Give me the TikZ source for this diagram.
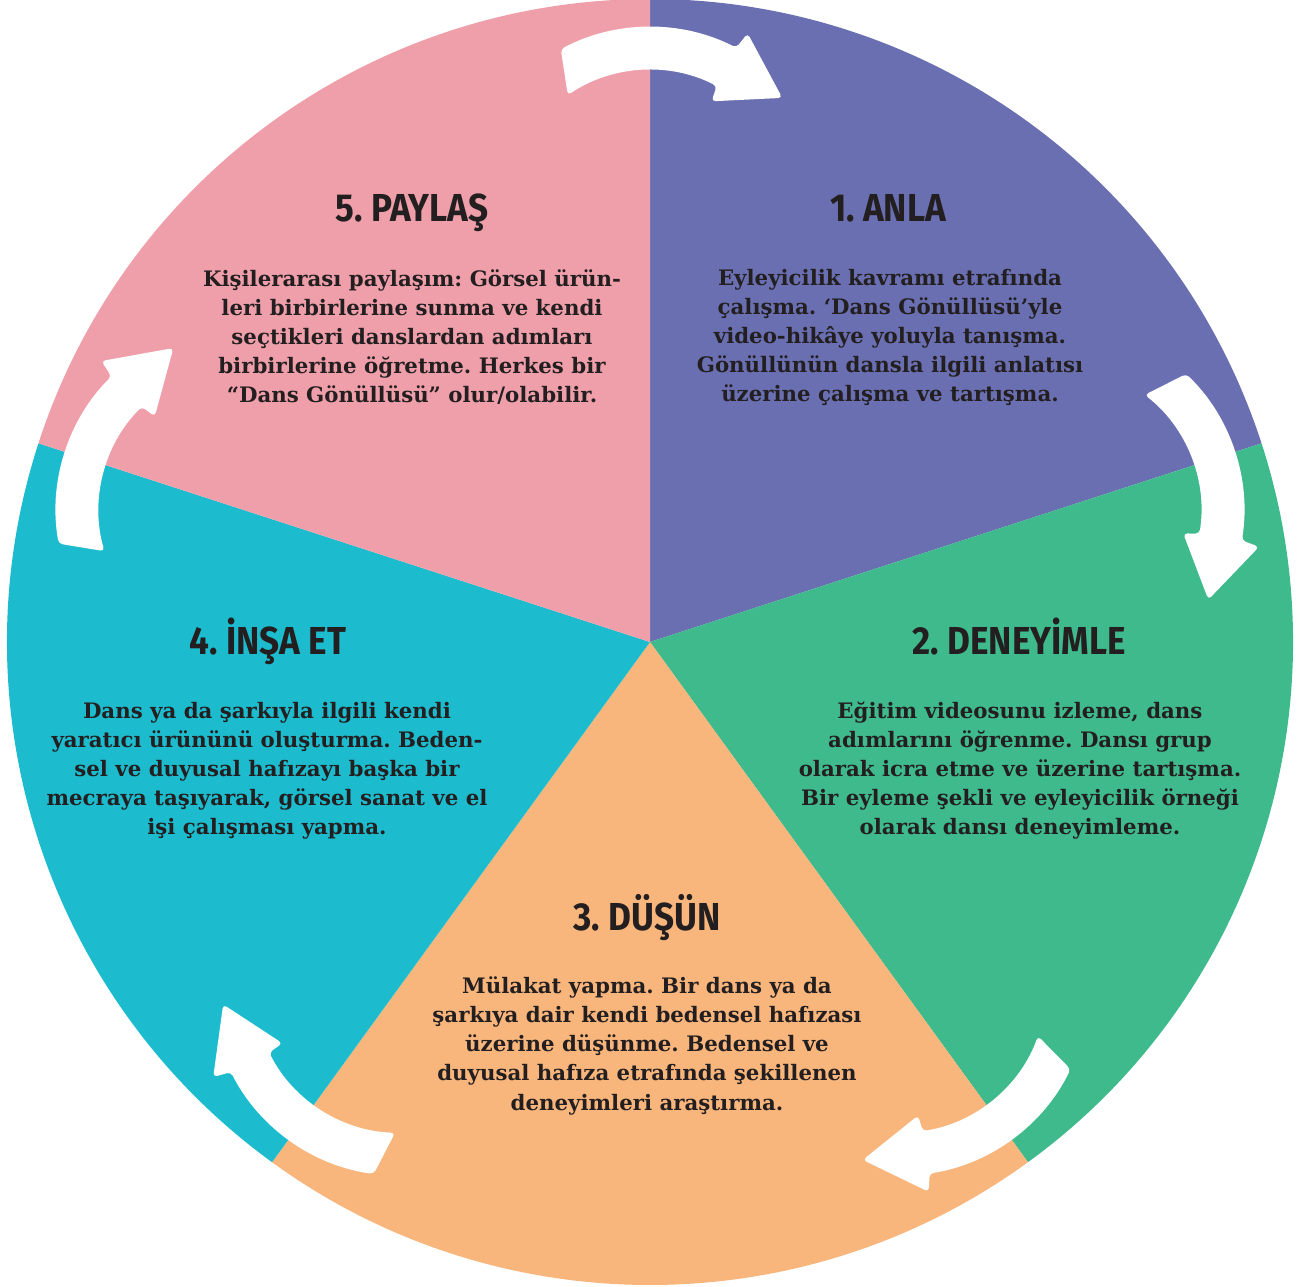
\documentclass[tikz,border=0pt]{standalone}
\usepackage{fontspec}
\setmainfont{DejaVu Serif}
\newfontfamily\titlefont[FakeStretch=0.9]{Fira Sans}
\definecolor{anlacol}{HTML}{6A6FB2}
\definecolor{deneyimlecol}{HTML}{3FBA8C}
\definecolor{dusuncol}{HTML}{F9B67C}
\definecolor{insacol}{HTML}{1CBCCE}
\definecolor{paylascol}{HTML}{EF9FAA}
\definecolor{inkcol}{HTML}{231F20}

% one white turn arrow, rotated about the centre
\newcommand{\turnarrow}[1]{%
\begin{scope}[rotate=#1, shift={(0,425)}]
\fill[arrowfill] (118:190) arc[start angle=118, end angle=63, radius=190pt] -- (62:208) -- (42:178) -- (62:131) -- (63:147) arc[start angle=63, end angle=124, radius=147pt] -- cycle;
\end{scope}}

\begin{document}
\frenchspacing
\begin{tikzpicture}[x=1pt, y=1pt]
\tikzstyle{arrowfill}=[fill = white, rounded corners = 4pt]
\tikzstyle{steptitle}=[
anchor = base,
inner sep = 0pt,
text = inkcol,
font = \titlefont\bfseries\fontsize{39}{40}\selectfont]
% anchor base = baseline of the last line
\tikzstyle{steptext}=[
anchor = base,
inner sep = 0pt,
align = center,
text = inkcol,
font = \bfseries\fontsize{21.3}{29.2}\selectfont]
\useasboundingbox (-650,-645) rectangle (651,642);
% sectors
\fill[anlacol] (0,0) -- (18:643) arc[start angle = 18, end angle = 90, radius = 643pt] -- cycle;
\fill[deneyimlecol] (0,0) -- (-54:643) arc[start angle = -54, end angle = 18, radius = 643pt] -- cycle;
\fill[dusuncol] (0,0) -- (-126:643) arc[start angle = -126, end angle = -54, radius = 643pt] -- cycle;
\fill[insacol] (0,0) -- (162:643) arc[start angle = 162, end angle = 234, radius = 643pt] -- cycle;
\fill[paylascol] (0,0) -- (90:643) arc[start angle = 90, end angle = 162, radius = 643pt] -- cycle;
% arrows
\turnarrow{0}
\turnarrow{-72}
\turnarrow{-144}
\turnarrow{-216}
\turnarrow{-288}
% titles
\node[steptitle] (t1) at (238,420) {1. ANLA};
\node[steptitle] (t2) at (369,-13) {2. DENEYİMLE};
\node[steptitle] (t3) at (-3,-288) {3. DÜŞÜN};
\node[steptitle] (t4) at (-382,-13) {4. İNŞA ET};
\node[steptitle] (t5) at (-238,420) {5. PAYLAŞ};
% texts
\node[steptext] (b1) at (240,240) {Eyleyicilik kavramı etrafında\\
çalışma. ‘Dans Gönüllüsü’yle\\
video-hikâye yoluyla tanışma.\\
Gönüllünün dansla ilgili anlatısı\\
üzerine çalışma ve tartışma.};
\node[steptext] (b2) at (370,-193) {Eğitim videosunu izleme, dans\\
adımlarını öğrenme. Dansı grup\\
olarak icra etme ve üzerine tartışma.\\
Bir eyleme şekli ve eyleyicilik örneği\\
olarak dansı deneyimleme.};
\node[steptext] (b3) at (-3,-468) {Mülakat yapma. Bir dans ya da\\
şarkıya dair kendi bedensel hafızası\\
üzerine düşünme. Bedensel ve\\
duyusal hafıza etrafında şekillenen\\
deneyimleri araştırma.};
\node[steptext] (b4) at (-383,-193) {Dans ya da şarkıyla ilgili kendi\\
yaratıcı ürününü oluşturma. Beden-\\
sel ve duyusal hafızayı başka bir\\
mecraya taşıyarak, görsel sanat ve el\\
işi çalışması yapma.};
\node[steptext] (b5) at (-238,239) {Kişilerarası paylaşım: Görsel ürün-\\
leri birbirlerine sunma ve kendi\\
seçtikleri danslardan adımları\\
birbirlerine öğretme. Herkes bir\\
“Dans Gönüllüsü” olur/olabilir.};
\end{tikzpicture}
\end{document}
